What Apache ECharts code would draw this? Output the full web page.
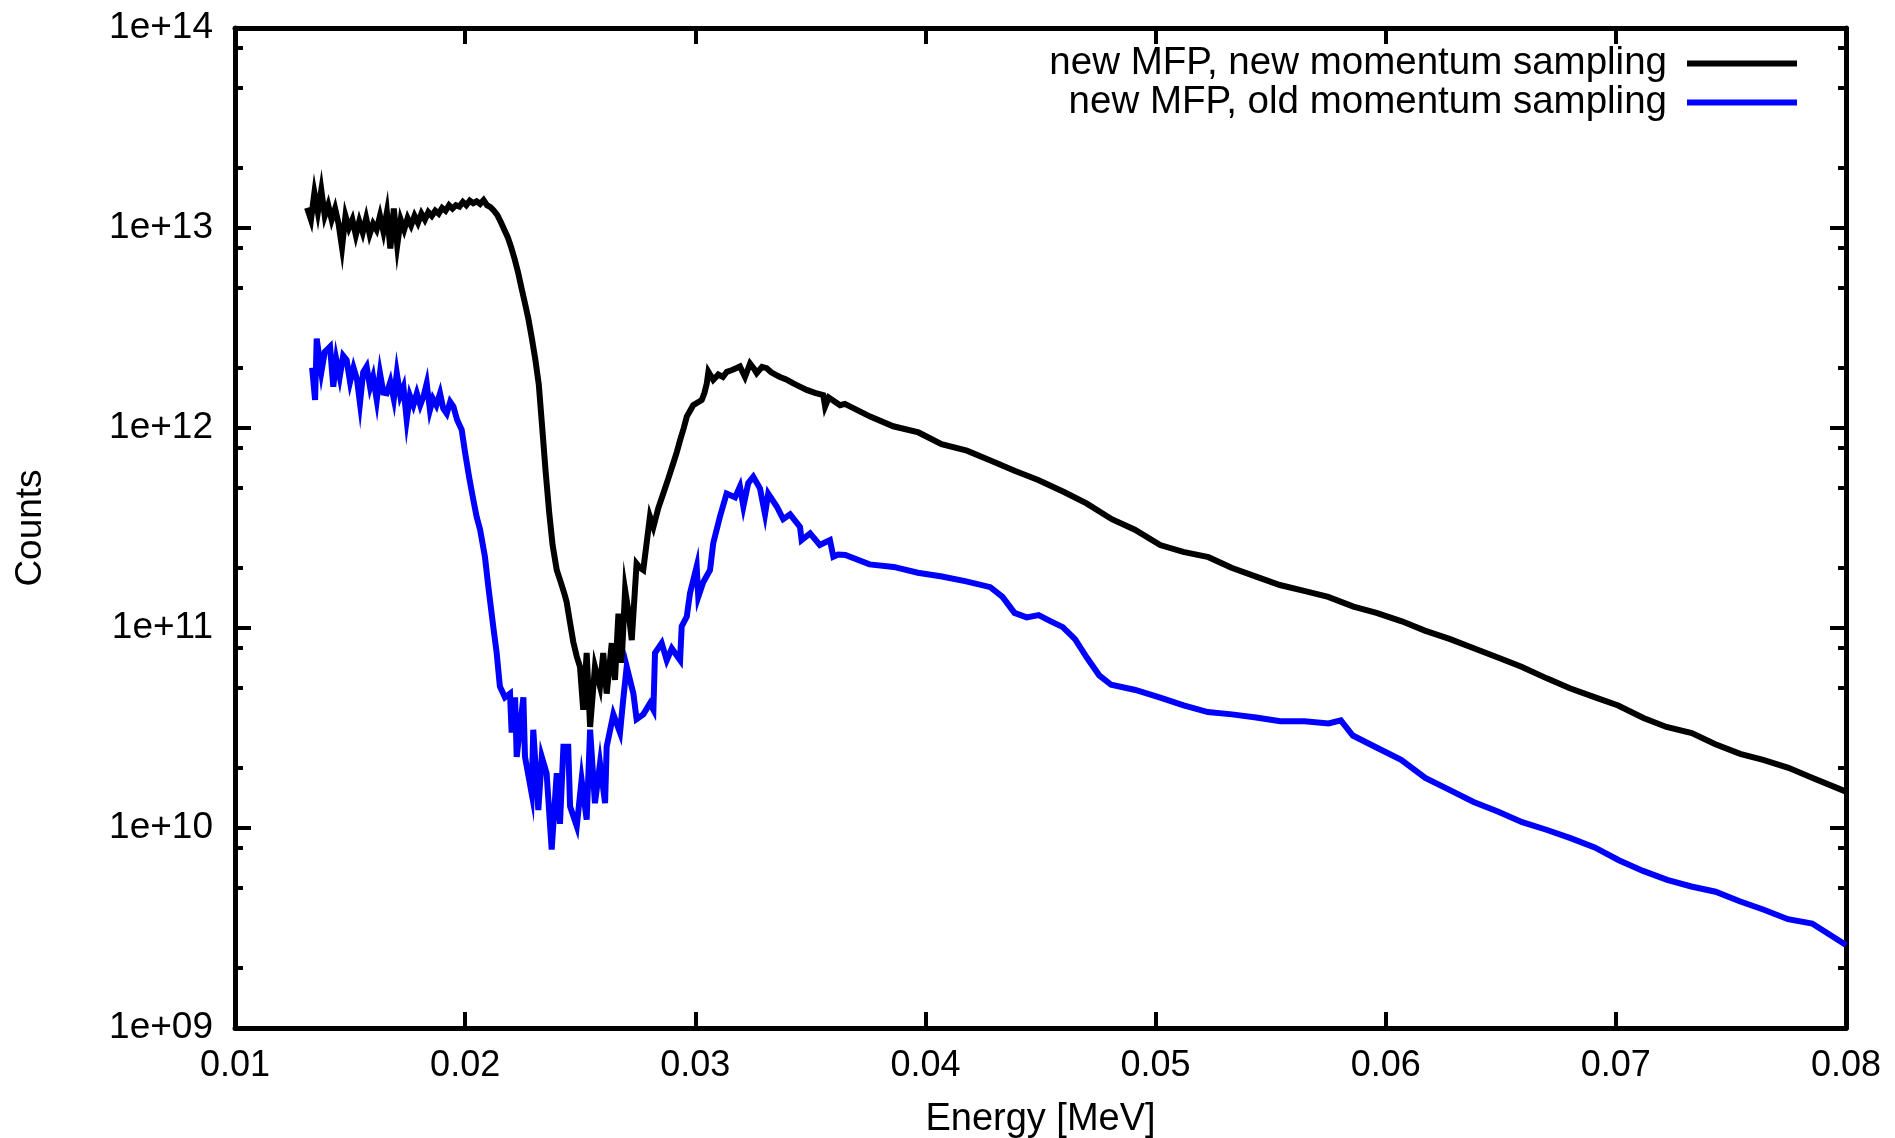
<!DOCTYPE html>
<html>
<head>
<meta charset="utf-8">
<title>Counts vs Energy</title>
<script src="https://cdn.jsdelivr.net/npm/echarts@6/dist/echarts.min.js"></script>
<style>
  html, body { margin: 0; padding: 0; background: #fff; }
  #spectre { width: 1895px; height: 1138px; }
</style>
</head>
<body>
<div id="spectre"></div>
<script>
/* jshint esversion: 6 */

// ---------------------------------------------------------------------------
// donnees

// new MFP, new momentum sampling (noir)
var newE = [0.01313, 0.0133, 0.01345, 0.0136, 0.01375, 0.0139, 0.01405, 0.0142, 0.01435, 0.0145,
  0.01465, 0.0148, 0.01495, 0.0151, 0.01525, 0.0154, 0.01555, 0.0157, 0.01585, 0.016,
  0.01615, 0.0163, 0.01645, 0.0166, 0.01675, 0.0169, 0.01705, 0.0172, 0.01735, 0.0175,
  0.01765, 0.0178, 0.01795, 0.0181, 0.01825, 0.0184, 0.01855, 0.0187, 0.01885, 0.019,
  0.01915, 0.0193, 0.01945, 0.0196, 0.01975, 0.0199, 0.02005, 0.0202, 0.02035, 0.0205,
  0.02065, 0.0208, 0.02095, 0.0211, 0.02125, 0.0214, 0.02155, 0.0217, 0.02185, 0.022,
  0.02215, 0.0223, 0.02245, 0.0226, 0.02275, 0.0229, 0.02305, 0.0232, 0.02335, 0.0235,
  0.02365, 0.0238, 0.02398, 0.02415, 0.0243, 0.02441, 0.02456, 0.0247, 0.02485, 0.02499,
  0.02513, 0.02528, 0.02543, 0.02564, 0.02586, 0.026, 0.02615, 0.02637, 0.02651, 0.02666,
  0.0268, 0.02695, 0.0271, 0.02724, 0.02745, 0.0276, 0.02774, 0.02803, 0.02818, 0.0284,
  0.02861, 0.02883, 0.02905, 0.0292, 0.02934, 0.0295, 0.02963, 0.02991, 0.03028, 0.0304,
  0.0305, 0.03057, 0.03078, 0.031, 0.0312, 0.03137, 0.0316, 0.03182, 0.03194, 0.03216,
  0.03238, 0.03255, 0.03267, 0.0329, 0.0331, 0.0333, 0.03348, 0.03368, 0.03395, 0.03426,
  0.0345, 0.03484, 0.0352, 0.03556, 0.03564, 0.0358, 0.03629, 0.0365, 0.0376, 0.0386,
  0.0397, 0.0407, 0.0418, 0.0428, 0.0439, 0.0449, 0.046, 0.047, 0.0481, 0.0491,
  0.0502, 0.0512, 0.0523, 0.0533, 0.0544, 0.0554, 0.0565, 0.0575, 0.0586, 0.0596,
  0.0607, 0.0617, 0.0628, 0.0638, 0.0649, 0.0659, 0.067, 0.068, 0.0691, 0.0701,
  0.0712, 0.0722, 0.0733, 0.0743, 0.0754, 0.0764, 0.0775, 0.0785, 0.08];
var newCounts = [1.26e13, 1.1e13, 1.5e13, 1.2e13, 1.55e13, 1.15e13, 1.3e13, 1.1e13, 1.25e13, 1.05e13,
  8.0e12, 1.15e13, 1.0e13, 1.1e13, 9.2e12, 1.08e13, 9.5e12, 1.12e13, 9.3e12, 1.05e13,
  9.8e12, 1.15e13, 9.6e12, 1.2e13, 7.9e12, 1.25e13, 8.2e12, 1.1e13, 9.8e12, 1.12e13,
  1.03e13, 1.15e13, 1.06e13, 1.18e13, 1.1e13, 1.2e13, 1.15e13, 1.22e13, 1.18e13, 1.26e13,
  1.22e13, 1.3e13, 1.25e13, 1.3e13, 1.28e13, 1.35e13, 1.3e13, 1.37e13, 1.33e13, 1.36e13,
  1.32e13, 1.38e13, 1.3e13, 1.27e13, 1.22e13, 1.16e13, 1.07e13, 9.8e12, 9.0e12, 8.0e12,
  7.0e12, 6.0e12, 5.0e12, 4.2e12, 3.5e12, 2.8e12, 2.2e12, 1.65e12, 1.0e12, 6.0e11,
  3.8e11, 2.6e11, 1.95e11, 1.7e11, 1.5e11, 1.35e11, 1.06e11, 8.5e10, 7.2e10, 6.4e10,
  3.9e10, 7.5e10, 3.2e10, 6.4e10, 5.1e10, 7.5e10, 4.7e10, 8.4e10, 5.5e10, 1.18e11,
  6.7e10, 1.55e11, 1.2e11, 8.7e10, 2.1e11, 2.0e11, 1.95e11, 3.6e11, 3.2e11, 4.0e11,
  4.7e11, 5.6e11, 6.7e11, 7.6e11, 8.7e11, 1.0e12, 1.14e12, 1.3e12, 1.38e12, 1.5e12,
  1.67e12, 1.91e12, 1.74e12, 1.85e12, 1.8e12, 1.91e12, 1.95e12, 2.0e12, 2.03e12, 1.8e12,
  2.1e12, 1.98e12, 1.88e12, 2.02e12, 1.99e12, 1.9e12, 1.85e12, 1.8e12, 1.75e12, 1.67e12,
  1.62e12, 1.55e12, 1.5e12, 1.46e12, 1.28e12, 1.42e12, 1.3e12, 1.32e12, 1.14e12, 1.02e12,
  9.5e11, 8.3e11, 7.7e11, 6.9e11, 6.1e11, 5.5e11, 4.8e11, 4.2e11, 3.5e11, 3.1e11,
  2.6e11, 2.4e11, 2.26e11, 2.0e11, 1.8e11, 1.64e11, 1.53e11, 1.43e11, 1.28e11, 1.19e11,
  1.08e11, 9.7e10, 8.8e10, 7.95e10, 7.1e10, 6.4e10, 5.6e10, 5.0e10, 4.5e10, 4.1e10,
  3.55e10, 3.2e10, 2.98e10, 2.63e10, 2.35e10, 2.19e10, 2.0e10, 1.79e10, 1.52e10];

// new MFP, old momentum sampling (bleu)
var oldE = [0.01335, 0.01348, 0.01355, 0.01375, 0.0139, 0.01413, 0.01427, 0.0144, 0.01455, 0.0147,
  0.01485, 0.015, 0.01515, 0.0153, 0.01543, 0.01557, 0.01572, 0.01587, 0.016, 0.01616,
  0.0163, 0.01645, 0.01659, 0.01675, 0.0169, 0.01703, 0.01718, 0.01732, 0.01746, 0.0176,
  0.01775, 0.0179, 0.01805, 0.0182, 0.01833, 0.01847, 0.0186, 0.01875, 0.01891, 0.01905,
  0.0192, 0.01935, 0.01949, 0.01965, 0.01985, 0.02, 0.02017, 0.02035, 0.0205, 0.02065,
  0.02086, 0.02101, 0.02122, 0.02137, 0.02151, 0.02173, 0.02195, 0.02202, 0.02217, 0.02224,
  0.02253, 0.0226, 0.02289, 0.02296, 0.02318, 0.02333, 0.02354, 0.02376, 0.02398, 0.02412,
  0.02427, 0.02448, 0.02456, 0.02485, 0.02506, 0.02528, 0.02543, 0.02564, 0.02586, 0.02608,
  0.02615, 0.02644, 0.02673, 0.02687, 0.02702, 0.02731, 0.02745, 0.02774, 0.02803, 0.02818,
  0.02825, 0.02854, 0.02876, 0.02898, 0.02934, 0.02941, 0.02963, 0.02977, 0.03006, 0.03013,
  0.03035, 0.03064, 0.03078, 0.03107, 0.03136, 0.03173, 0.03194, 0.03209, 0.0323, 0.03252,
  0.03281, 0.03303, 0.03317, 0.03354, 0.03382, 0.03412, 0.03455, 0.03462, 0.03499, 0.03541,
  0.03585, 0.036, 0.03621, 0.03652, 0.03757, 0.03862, 0.03967, 0.04072, 0.04177, 0.04282,
  0.04335, 0.04387, 0.0444, 0.04492, 0.04545, 0.04597, 0.0465, 0.04702, 0.04755, 0.04807,
  0.04912, 0.05017, 0.05122, 0.05227, 0.05332, 0.05437, 0.05542, 0.05647, 0.05752, 0.05805,
  0.05857, 0.05962, 0.06067, 0.06172, 0.06277, 0.06382, 0.06487, 0.06593, 0.06698, 0.06803,
  0.06908, 0.07013, 0.07118, 0.07223, 0.07328, 0.07433, 0.07538, 0.07643, 0.07748, 0.07853,
  0.08];
var oldCounts = [2.0e12, 1.38e12, 2.8e12, 1.9e12, 2.4e12, 2.55e12, 1.61e12, 2.2e12, 1.8e12, 2.3e12,
  2.19e12, 1.7e12, 2.0e12, 1.75e12, 1.33e12, 1.9e12, 2.03e12, 1.6e12, 1.8e12, 1.38e12,
  1.88e12, 1.5e12, 1.49e12, 1.7e12, 1.4e12, 1.88e12, 1.45e12, 1.6e12, 1.1e12, 1.45e12,
  1.3e12, 1.49e12, 1.3e12, 1.45e12, 1.67e12, 1.23e12, 1.4e12, 1.3e12, 1.49e12, 1.25e12,
  1.18e12, 1.35e12, 1.28e12, 1.1e12, 9.8e11, 7.5e11, 5.7e11, 4.4e11, 3.6e11, 3.1e11,
  2.27e11, 1.6e11, 1.02e11, 7.5e10, 5.1e10, 4.5e10, 4.7e10, 3.0e10, 4.5e10, 2.27e10,
  4.5e10, 2.27e10, 1.49e10, 3.1e10, 1.23e10, 2.27e10, 1.88e10, 7.8e9, 1.88e10, 1.05e10,
  2.55e10, 2.55e10, 1.28e10, 1.02e10, 1.74e10, 1.1e10, 3.1e10, 1.33e10, 2.1e10, 1.33e10,
  2.55e10, 3.7e10, 3.0e10, 4.4e10, 6.4e10, 4.7e10, 3.5e10, 3.7e10, 4.2e10, 3.9e10,
  7.5e10, 8.4e10, 6.9e10, 7.9e10, 6.9e10, 1.02e11, 1.14e11, 1.49e11, 2.03e11, 1.43e11,
  1.7e11, 1.95e11, 2.65e11, 3.6e11, 4.7e11, 4.5e11, 5.1e11, 4.05e11, 5.3e11, 5.7e11,
  5.0e11, 3.7e11, 4.7e11, 4.05e11, 3.5e11, 3.7e11, 3.2e11, 2.75e11, 2.97e11, 2.6e11,
  2.75e11, 2.27e11, 2.33e11, 2.32e11, 2.08e11, 2.02e11, 1.89e11, 1.81e11, 1.71e11, 1.6e11,
  1.43e11, 1.19e11, 1.13e11, 1.16e11, 1.08e11, 1.01e11, 8.8e10, 7.1e10, 5.8e10, 5.2e10,
  4.9e10, 4.5e10, 4.1e10, 3.8e10, 3.7e10, 3.57e10, 3.42e10, 3.42e10, 3.33e10, 3.45e10,
  2.9e10, 2.52e10, 2.19e10, 1.78e10, 1.55e10, 1.35e10, 1.21e10, 1.07e10, 9.8e9, 8.9e9,
  8.0e9, 6.9e9, 6.1e9, 5.5e9, 5.1e9, 4.8e9, 4.3e9, 3.9e9, 3.5e9, 3.33e9,
  2.6e9];

var seriesNames = ['new MFP, new momentum sampling', 'new MFP, old momentum sampling'];
var seriesColors = ['#000000', '#0000ff'];

// graduations secondaires de l'axe log : 2, 5 et 8 par decade
var minorFactors = [2, 5, 8];
var decades = [9, 10, 11, 12, 13];

// ---------------------------------------------------------------------------

var fontFamily = '"Liberation Sans", Arial, Helvetica, sans-serif';

function pairs(xs, ys) {
  'use strict';
  return xs.map(function (x, i) { return [x, ys[i]]; });
}

var minorTicks = [];
decades.forEach(function (d) {
  minorFactors.forEach(function (f) {
    minorTicks.push(d + Math.log10(f));
  });
});

var axisLine = {show: true, onZero: false, lineStyle: {color: '#000', width: 5}};
var majorTick = {show: true, inside: true, length: 16, lineStyle: {color: '#000', width: 4}};
var minorTick = {show: true, inside: true, length: 8, customValues: minorTicks, lineStyle: {color: '#000', width: 4}};

var spectre = echarts.init(document.getElementById('spectre'), null, {renderer: 'canvas'});
var spectreOption = {
  animation: false,
  backgroundColor: '#ffffff',
  textStyle: {fontFamily: fontFamily},
  grid: {left: 235, right: 49, top: 28, bottom: 110, containLabel: false, outerBoundsMode: 'none'},
  legend: {
    orient: 'vertical',
    align: 'right',
    right: 93,
    top: 39,
    itemWidth: 110,
    itemHeight: 6,
    itemGap: 0,
    icon: 'rect',
    selectedMode: false,
    data: seriesNames,
    textStyle: {fontFamily: fontFamily, fontSize: 38.5, color: '#000', lineHeight: 36, padding: [0, 15, 0, 0]}
  },
  xAxis: [
    {
      type: 'value',
      position: 'bottom',
      min: 0.01,
      max: 0.08,
      interval: 0.01,
      name: 'Energy [MeV]',
      nameLocation: 'middle',
      nameGap: 73,
      nameTextStyle: {fontFamily: fontFamily, fontSize: 38, color: '#000'},
      axisLine: axisLine,
      axisTick: majorTick,
      splitLine: {show: false},
      axisLabel: {
        fontFamily: fontFamily,
        fontSize: 36,
        color: '#000',
        margin: 20,
        formatter: function (v) { return v.toFixed(2); }
      }
    },
    {
      type: 'value',
      position: 'top',
      min: 0.01,
      max: 0.08,
      interval: 0.01,
      axisLine: axisLine,
      axisTick: majorTick,
      splitLine: {show: false},
      axisLabel: {show: false}
    }
  ],
  yAxis: [
    {
      type: 'log',
      logBase: 10,
      position: 'left',
      min: 1e9,
      max: 1e14,
      name: 'Counts',
      nameLocation: 'middle',
      nameRotate: 90,
      nameGap: 186,
      nameTextStyle: {fontFamily: fontFamily, fontSize: 37, color: '#000'},
      axisLine: axisLine,
      axisTick: majorTick,
      minorTick: {show: false},
      splitLine: {show: false},
      axisLabel: {
        fontFamily: fontFamily,
        fontSize: 37,
        color: '#000',
        margin: 22,
        formatter: function (v) {
          var e = Math.round(Math.log10(v));
          return '1e+' + (e < 10 ? '0' + e : e);
        }
      }
    },
    {
      type: 'log',
      logBase: 10,
      position: 'right',
      min: 1e9,
      max: 1e14,
      axisLine: axisLine,
      axisTick: majorTick,
      splitLine: {show: false},
      axisLabel: {show: false}
    },
    // axes fantomes pour les petites graduations
    {
      type: 'value',
      position: 'left',
      min: 9,
      max: 14,
      axisLine: {show: false},
      axisTick: minorTick,
      splitLine: {show: false},
      axisLabel: {show: false}
    },
    {
      type: 'value',
      position: 'right',
      min: 9,
      max: 14,
      axisLine: {show: false},
      axisTick: minorTick,
      splitLine: {show: false},
      axisLabel: {show: false}
    }
  ],
  series: [
    {
      name: seriesNames[0],
      type: 'line',
      xAxisIndex: 0,
      yAxisIndex: 0,
      data: pairs(newE, newCounts),
      showSymbol: false,
      symbol: 'none',
      color: seriesColors[0],
      lineStyle: {color: seriesColors[0], width: 6, join: 'miter'}
    },
    {
      name: seriesNames[1],
      type: 'line',
      xAxisIndex: 0,
      yAxisIndex: 0,
      data: pairs(oldE, oldCounts),
      showSymbol: false,
      symbol: 'none',
      color: seriesColors[1],
      lineStyle: {color: seriesColors[1], width: 6, join: 'miter'}
    }
  ]
};

// application des options au graphique
spectreOption && spectre.setOption(spectreOption);
</script>
</body>
</html>
